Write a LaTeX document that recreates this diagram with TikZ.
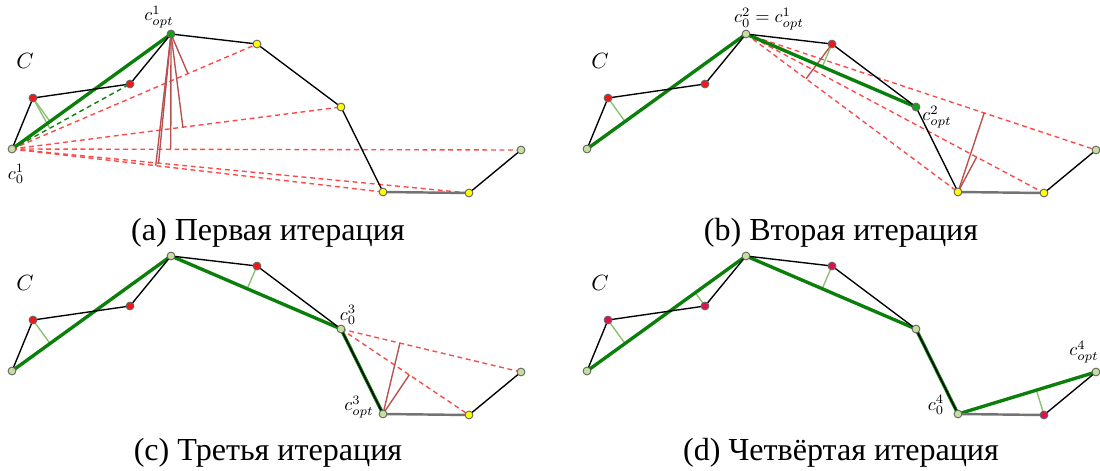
\documentclass[tikz,border=0pt]{standalone}
\usepackage{amsmath,amssymb}
\usepackage{graphicx}
\usepackage[no-math]{fontspec}
\setmainfont{Liberation Serif}
\usepackage{tikz}
\usetikzlibrary{calc,positioning}
\definecolor{ptlight}{HTML}{C6DF9C}
\definecolor{ptred}{HTML}{F01818}
\definecolor{ptcrim}{HTML}{E0104A}
\definecolor{ptyel}{HTML}{FFFF00}
\definecolor{ptgreen}{HTML}{18A018}
\definecolor{apxgreen}{HTML}{0A7F0A}
\definecolor{perpgreen}{HTML}{8CC070}
\definecolor{distred}{HTML}{B85050}
\definecolor{chordred}{HTML}{FF4848}
\tikzset{
  >=stealth,
  line cap=round,
  line join=round,
  curve/.style={black, line width=0.45pt},
  basegap/.style={black!55, line width=0.8pt},
  approx/.style={apxgreen, line width=1.1pt},
  chord/.style={chordred, line width=0.45pt, line cap=butt, dash pattern=on 1.6pt off 1.2pt},
  chordok/.style={apxgreen, line width=0.45pt, line cap=butt, dash pattern=on 1.6pt off 1.2pt},
  perp/.style={perpgreen, line width=0.45pt},
  dist/.style={distred, line width=0.45pt},
  pt/.style={circle, draw=black!60, line width=0.3pt, inner sep=0pt, minimum size=0.09cm},
  lbl/.style={inner sep=0pt},
  capt/.style={font=\fontsize{10.5}{12}\selectfont}
}
% small math labels and the curve name
\newcommand{\smath}[1]{\scalebox{0.6}{$#1$}}
\newcommand{\curvename}{\scalebox{0.72}{$C$}}
% vertices of the curve C, in pixels of one panel
\newcommand{\curvexy}{0/12/149,1/33/98,2/130/84,3/171/34,4/257/44,5/341/107,6/383/192,7/469/193,8/521/150}

\begin{document}
\begin{tikzpicture}[x={(0.0115cm,0)}, y={(0,-0.0115cm)}]
  \useasboundingbox (0,0) rectangle (1100,470);

  % (a)
  \begin{scope}
    \foreach \i/\px/\py in \curvexy
      \coordinate (a\i) at (\px,\py);
    \draw[chordok] (a0) -- (a2);
    \foreach \k in {4,...,8}
      \draw[chord] (a0) -- (a\k);
    \foreach \k in {4,...,8}
      \draw[dist] (a3) -- ($(a0)!(a3)!(a\k)$);
    \draw[perp] (a1) -- ($(a0)!(a1)!(a3)$);
    \draw[perp] (a1) -- ($(a0)!(a1)!(a2)$);
    \draw[approx] (a0) -- (a3);
    \draw[curve] (a0) -- (a1) -- (a2) -- (a3) -- (a4) -- (a5) -- (a6);
    \draw[basegap] (a6) -- (a7);
    \draw[curve] (a7) -- (a8);
    \foreach \i/\c in {0/ptlight,1/ptred,2/ptred,3/ptgreen,4/ptyel,5/ptyel,6/ptyel,7/ptyel,8/ptlight}
      \node[pt, fill=\c] (pa\i) at (a\i) {};
    \node[lbl] (aC) at (25,61) {\curvename};
    \node[lbl] (aopt) at ($(a3)+(-12,-17)$) {\smath{c^1_{opt}}};
    \node[lbl] (astart) at ($(a0)+(4,25)$) {\smath{c^1_0}};
    \node[capt] (acap) at (268,233) {(a) Первая итерация};
  \end{scope}

  % (b)
  \begin{scope}[shift={(575,0)}]
    \foreach \i/\px/\py in \curvexy
      \coordinate (b\i) at (\px,\py);
    \foreach \k in {5,...,8}
      \draw[chord] (b3) -- (b\k);
    \draw[dist] (b4) -- ($(b3)!(b4)!(b6)$);
    \draw[dist] (b6) -- ($(b3)!(b6)!(b7)$);
    \draw[dist] (b6) -- ($(b3)!(b6)!(b8)$);
    \draw[perp] (b1) -- ($(b0)!(b1)!(b3)$);
    \draw[perp] (b4) -- ($(b3)!(b4)!(b5)$);
    \draw[approx] (b0) -- (b3) -- (b5);
    \draw[curve] (b0) -- (b1) -- (b2) -- (b3) -- (b4) -- (b5) -- (b6);
    \draw[basegap] (b6) -- (b7);
    \draw[curve] (b7) -- (b8);
    \foreach \i/\c in {0/ptlight,1/ptred,2/ptred,3/ptlight,4/ptred,5/ptgreen,6/ptyel,7/ptyel,8/ptlight}
      \node[pt, fill=\c] (pb\i) at (b\i) {};
    \node[lbl] (bC) at (25,61) {\curvename};
    \node[lbl] (bstart) at ($(b3)+(23,-15)$) {\smath{c^2_0=c^1_{opt}}};
    \node[lbl] (bopt) at ($(b5)+(21,10)$) {\smath{c^2_{opt}}};
    \node[capt] (bcap) at (266,233) {(b) Вторая итерация};
  \end{scope}

  % (c)
  \begin{scope}[shift={(0,222)}]
    \foreach \i/\px/\py in \curvexy
      \coordinate (c\i) at (\px,\py);
    \foreach \k in {6,...,8}
      \draw[chord] (c5) -- (c\k);
    \draw[dist] (c6) -- ($(c5)!(c6)!(c7)$);
    \draw[dist] (c6) -- ($(c5)!(c6)!(c8)$);
    \draw[perp] (c1) -- ($(c0)!(c1)!(c3)$);
    \draw[perp] (c4) -- ($(c3)!(c4)!(c5)$);
    \draw[approx] (c0) -- (c3) -- (c5) -- (c6);
    \draw[curve] (c0) -- (c1) -- (c2) -- (c3) -- (c4) -- (c5) -- (c6);
    \draw[basegap] (c6) -- (c7);
    \draw[curve] (c7) -- (c8);
    \foreach \i/\c in {0/ptlight,1/ptred,2/ptred,3/ptlight,4/ptred,5/ptlight,6/ptlight,7/ptyel,8/ptlight}
      \node[pt, fill=\c] (pc\i) at (c\i) {};
    \node[lbl] (cC) at (25,61) {\curvename};
    \node[lbl] (cstart) at ($(c5)+(7,-14)$) {\smath{c^3_0}};
    \node[lbl] (copt) at ($(c6)+(-24,-7)$) {\smath{c^3_{opt}}};
    \node[capt] (ccap) at (268,231) {(c) Третья итерация};
  \end{scope}

  % (d)
  \begin{scope}[shift={(575,222)}]
    \foreach \i/\px/\py in \curvexy
      \coordinate (d\i) at (\px,\py);
    \draw[perp] (d1) -- ($(d0)!(d1)!(d3)$);
    \draw[perp] (d2) -- ($(d0)!(d2)!(d3)$);
    \draw[perp] (d4) -- ($(d3)!(d4)!(d5)$);
    \draw[perp] (d7) -- ($(d6)!(d7)!(d8)$);
    \draw[approx] (d0) -- (d3) -- (d5) -- (d6) -- (d8);
    \draw[curve] (d0) -- (d1) -- (d2) -- (d3) -- (d4) -- (d5) -- (d6);
    \draw[basegap] (d6) -- (d7);
    \draw[curve] (d7) -- (d8);
    \foreach \i/\c in {0/ptlight,1/ptcrim,2/ptcrim,3/ptlight,4/ptcrim,5/ptlight,6/ptlight,7/ptcrim,8/ptlight}
      \node[pt, fill=\c] (pd\i) at (d\i) {};
    \node[lbl] (dC) at (25,61) {\curvename};
    \node[lbl] (dstart) at ($(d6)+(-22,-9)$) {\smath{c^4_0}};
    \node[lbl] (dopt) at ($(d8)+(-12,-20)$) {\smath{c^4_{opt}}};
    \node[capt] (dcap) at (266,231) {(d) Четвёртая итерация};
  \end{scope}
\end{tikzpicture}
\end{document}
